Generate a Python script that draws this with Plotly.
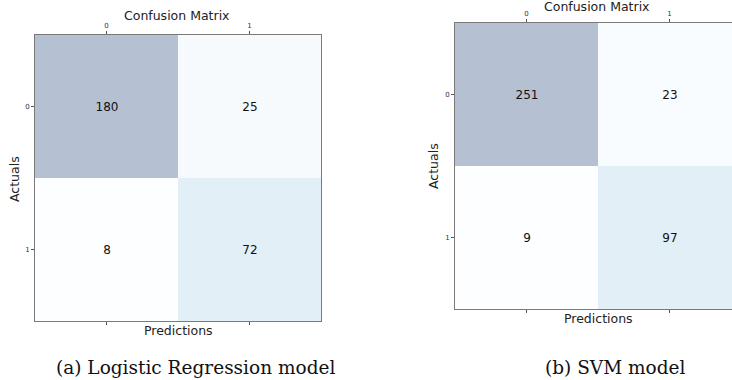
import plotly.graph_objects as go

# ---- data ----
class_labels = ["0", "1"]
cm_logreg = [[180, 25], [8, 72]]
cm_svm = [[251, 23], [9, 97]]
chart_title = "Confusion Matrix"
x_label = "Predictions"
y_label = "Actuals"
caption_a = "(a) Logistic Regression model"
caption_b = "(b) SVM model"

W, H = 732, 380

# matplotlib "Blues" drawn with alpha 0.3 over white
blues = [
    (0.9686, 0.9843, 1.0), (0.8706, 0.9216, 0.9686), (0.7765, 0.8588, 0.9373),
    (0.6196, 0.7922, 0.8824), (0.4196, 0.6824, 0.8392), (0.2588, 0.5725, 0.7765),
    (0.1294, 0.4431, 0.7098), (0.0314, 0.3176, 0.6118), (0.0314, 0.1882, 0.4196),
]
alpha = 0.3
colorscale = []
for i, (r, g, b) in enumerate(blues):
    rr = round(255 * (1 - alpha) + 255 * r * alpha)
    gg = round(255 * (1 - alpha) + 255 * g * alpha)
    bb = round(255 * (1 - alpha) + 255 * b * alpha)
    colorscale.append([i / (len(blues) - 1), f"rgb({rr},{gg},{bb})"])


def px(x):
    return x / W


def py(y):
    return 1 - y / H


fig = go.Figure()

idx = [0, 1]
fig.add_trace(go.Heatmap(
    z=cm_logreg, x=idx, y=idx, colorscale=colorscale, showscale=False,
    texttemplate="%{z}", textfont=dict(size=12, color="#111111", family="DejaVu Sans"),
    hoverinfo="skip", xaxis="x", yaxis="y",
))
fig.add_trace(go.Heatmap(
    z=cm_svm, x=idx, y=idx, colorscale=colorscale, showscale=False,
    texttemplate="%{z}", textfont=dict(size=12, color="#111111", family="DejaVu Sans"),
    hoverinfo="skip", xaxis="x2", yaxis="y2",
))

line_color = "#7a7a7a"
tick_font = dict(size=7, color="#333333", family="DejaVu Sans")

xcommon = dict(
    side="top", tickmode="array", tickvals=idx, ticktext=class_labels,
    ticks="outside", ticklen=3, tickwidth=1, tickcolor="#555555",
    showline=True, linecolor=line_color, linewidth=1, mirror="ticks",
    showgrid=False, zeroline=False, tickfont=tick_font, fixedrange=True,
)
ycommon = dict(
    tickmode="array", tickvals=idx, ticktext=class_labels,
    ticks="outside", ticklen=3, tickwidth=1, tickcolor="#555555",
    showline=True, linecolor=line_color, linewidth=1,
    showgrid=False, zeroline=False, tickfont=tick_font, fixedrange=True,
)

fig.update_layout(
    width=W, height=H,
    margin=dict(l=0, r=0, t=0, b=0),
    paper_bgcolor="white", plot_bgcolor="white",
    font=dict(family="DejaVu Sans", color="#222222"),
    showlegend=False,
    xaxis=dict(domain=[px(35), px(321)], range=[-0.5, 1.5], anchor="y", **xcommon),
    yaxis=dict(domain=[py(321), py(35)], range=[1.5, -0.5], anchor="x", mirror=True, **ycommon),
    xaxis2=dict(domain=[px(455), 1.0], range=[-0.5, -0.5 + (W - 455) / 143.0], anchor="y2", **xcommon),
    yaxis2=dict(domain=[py(309), py(23)], range=[1.5, -0.5], anchor="x2", mirror=False, **ycommon),
)

ann = []
lab_font = dict(family="DejaVu Sans", size=12.5, color="#222222")
cap_font = dict(family="DejaVu Serif", size=18.5, color="#111111")


def add(text, x, y, font, angle=0):
    ann.append(dict(text=text, x=px(x), y=py(y), xref="paper", yref="paper",
                    xanchor="center", yanchor="middle", showarrow=False,
                    font=font, textangle=angle))


add(chart_title, 177, 15, lab_font)
add(chart_title, 597, 6, lab_font)
add(x_label, 178, 330, lab_font)
add(x_label, 598, 318, lab_font)
add(y_label, 14, 179, lab_font, -90)
add(y_label, 433, 166, lab_font, -90)
add(caption_a, 195.5, 367, cap_font)
add(caption_b, 614.5, 367, cap_font)

fig.update_layout(annotations=ann)

fig.write_html(
    "out.html",
    config={"displayModeBar": False},
    post_script="document.body.style.margin='0';document.body.style.padding='0';",
)
